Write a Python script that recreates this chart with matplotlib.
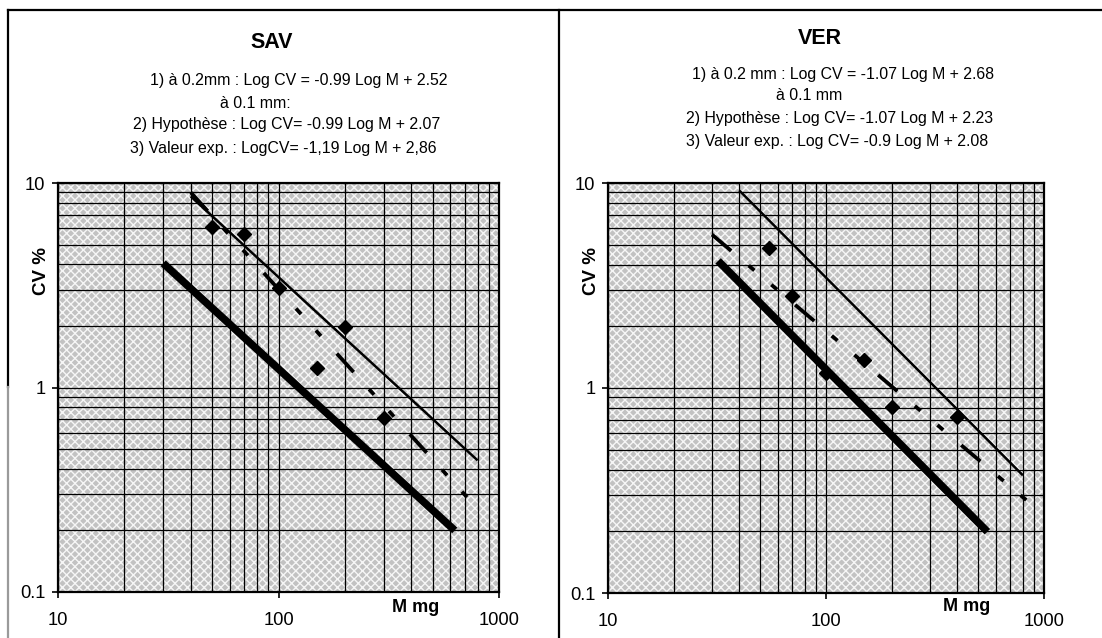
import numpy as np
import matplotlib
matplotlib.use("Agg")
import matplotlib.pyplot as plt
from matplotlib.lines import Line2D
from matplotlib.patches import Rectangle

plt.rcParams['font.family'] = ['Liberation Sans', 'DejaVu Sans']

W, H = 1102, 638

sav_m = [50, 70, 100, 150, 200, 300]
sav_cv = [6.1, 5.6, 3.07, 1.25, 1.98, 0.71]
sav_thin_m, sav_thin_cv = [40, 800], [8.6, 0.44]
sav_thick_m, sav_thick_cv = [30, 630], [4.05, 0.20]
sav_dash_m, sav_dash_cv = [40, 750], [9.0, 0.275]
sav_text = ["1) à 0.2mm : Log CV = -0.99 Log M + 2.52",
            "à 0.1 mm:",
            "2) Hypothèse : Log CV= -0.99 Log M + 2.07",
            "3) Valeur exp. : LogCV= -1,19 Log M + 2,86"]

# VER
ver_m = [55, 70, 100, 150, 200, 400]
ver_cv = [4.8, 2.8, 1.18, 1.37, 0.81, 0.72]
ver_thin_m, ver_thin_cv = [40, 800], [9.2, 0.375]
ver_thick_m, ver_thick_cv = [32, 550], [4.17, 0.199]
ver_dash_m, ver_dash_cv = [30, 1000], [5.6, 0.24]
ver_text = ["1) à 0.2 mm : Log CV = -1.07 Log M + 2.68",
            "à 0.1 mm",
            "2) Hypothèse : Log CV= -1.07 Log M + 2.23",
            "3) Valeur exp. : Log CV= -0.9 Log M + 2.08"]

x_ticks = [10, 100, 1000]
x_labels = ["10", "100", "1000"]
y_ticks = [0.1, 1, 10]
y_labels = ["0.1", "1", "10"]


def px(x, y):
    return x / W, 1 - y / H


def panel(rect, m, cv, thin, thick, dash):
    ax = fig.add_axes(rect)
    ax.set_xscale('log')
    ax.set_yscale('log')
    ax.set_xlim(10, 1000)
    ax.set_ylim(0.1, 10)
    ax.set_facecolor('#c2c2c2')
    ax.add_patch(Rectangle((0, 0), 1, 1, transform=ax.transAxes, facecolor='none',
                           edgecolor='#f6f6f6', hatch='xxxx', linewidth=0, zorder=0))
    ax.grid(True, which='both', color='black', linewidth=0.9, zorder=1)
    ax.set_axisbelow(True)
    ax.set_xticks(x_ticks, x_labels)
    ax.set_yticks(y_ticks, y_labels)
    ax.xaxis.set_minor_formatter(plt.NullFormatter())
    ax.yaxis.set_minor_formatter(plt.NullFormatter())
    ax.tick_params(which='major', direction='out', length=4, width=1.2, labelsize=13.2)
    ax.tick_params(axis='x', pad=10.5)
    ax.tick_params(axis='y', pad=5)
    ax.tick_params(which='minor', length=0)
    for s in ax.spines.values():
        s.set_linewidth(1.6)

    ax.plot(thin[0], thin[1], color='black', linewidth=1.8, solid_capstyle='butt', zorder=3)
    ax.plot(thick[0], thick[1], color='black', linewidth=5.5, solid_capstyle='butt', zorder=3)
    ax.plot(dash[0], dash[1], color='black', linewidth=2.7, dashes=[6.7, 6.1, 2, 5.9, 2, 6.3],
            dash_capstyle='butt', zorder=3)
    ax.plot(m, cv, linestyle='none', marker='D', markersize=7, color='black', zorder=4)
    return ax


fig = plt.figure(figsize=(W / 100, H / 100), dpi=100)

ax1 = panel([58 / W, 46 / H, 441 / W, 409 / H], sav_m, sav_cv,
            (sav_thin_m, sav_thin_cv), (sav_thick_m, sav_thick_cv), (sav_dash_m, sav_dash_cv))
ax2 = panel([608 / W, 45 / H, 436 / W, 410 / H], ver_m, ver_cv,
            (ver_thin_m, ver_thin_cv), (ver_thick_m, ver_thick_cv), (ver_dash_m, ver_dash_cv))

ax1.text(0.812, -0.037, "M mg", transform=ax1.transAxes, ha='center', va='center',
         fontsize=13, fontweight='bold')
ax2.text(0.823, -0.034, "M mg", transform=ax2.transAxes, ha='center', va='center',
         fontsize=13, fontweight='bold')
ax1.text(-0.0385, 0.785, "CV %", transform=ax1.transAxes, ha='center', va='center',
         rotation=90, fontsize=13.5, fontweight='bold')
ax2.text(-0.037, 0.785, "CV %", transform=ax2.transAxes, ha='center', va='center',
         rotation=90, fontsize=13.5, fontweight='bold')

# titles and equations
fig.text(*px(272, 43), "SAV", ha='center', va='center', fontsize=15.5, fontweight='bold')
for (x, y), t in zip([(299, 80), (255, 103), (287, 125), (283, 148)], sav_text):
    fig.text(*px(x, y), t, ha='center', va='center', fontsize=11.4)
fig.text(*px(820, 39), "VER", ha='center', va='center', fontsize=15.5, fontweight='bold')
for (x, y), t in zip([(843, 74), (809, 96), (840, 118), (837, 142)], ver_text):
    fig.text(*px(x, y), t, ha='center', va='center', fontsize=11.4)

# panel frame lines
fig.add_artist(Line2D([8 / W, 1], [1 - 10 / H, 1 - 10 / H], color='black', linewidth=1.6))
fig.add_artist(Line2D([8 / W, 8 / W], [1 - 10 / H, 1 - 387 / H], color='black', linewidth=1.6))
fig.add_artist(Line2D([8 / W, 8 / W], [1 - 387 / H, 0], color='#9a9a9a', linewidth=1.6))
fig.add_artist(Line2D([559 / W, 559 / W], [1 - 10 / H, 0], color='black', linewidth=1.6))

fig.savefig("out.png", dpi=100)
